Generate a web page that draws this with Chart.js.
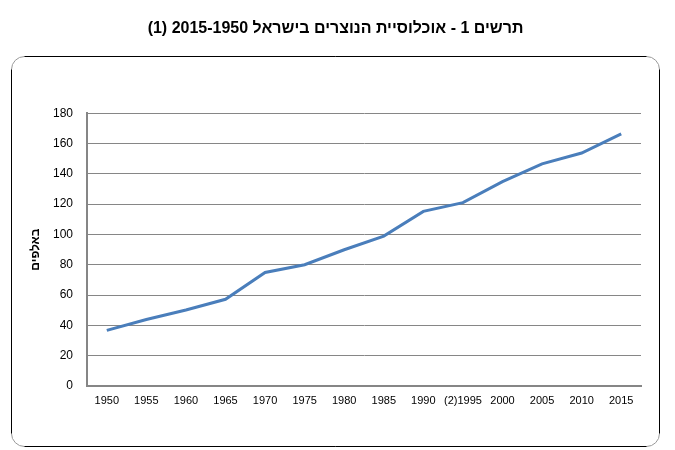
<!DOCTYPE html>
<html lang="he">
<head>
<meta charset="utf-8">
<script src="https://cdn.jsdelivr.net/npm/chart.js@4/dist/chart.umd.min.js"></script>
<style>
  html, body { margin: 0; padding: 0; background: #fff; }
  #wrap { width: 675px; height: 450px; }
  #myChart { direction: rtl; }
</style>
</head>
<body>
<div id="wrap"><canvas id="myChart" width="675" height="450"></canvas></div>
<script>
// Births in Israel, thousands
const years = ["1950", "1955", "1960", "1965", "1970", "1975", "1980", "1985",
  "1990", "1995(2)", "2000", "2005", "2010", "2015"];
const births = [36.7, 43.9, 50.1, 57.2, 74.9, 80.0, 89.9, 98.9,
  115.2, 121.0, 134.9, 146.6, 153.7, 166.4];
const yTicks = [0, 20, 40, 60, 80, 100, 120, 140, 160, 180];

const titleText = "תרשים 1 - אוכלוסיית הנוצרים בישראל 1950\u200F-2015 (1)";
const yTitle = "באלפים";

Chart.defaults.font.family = "'Liberation Sans', Arial, sans-serif";
Chart.defaults.color = "#000";

// frame around the plot: square black edge plus the grey rounded box inside it
const framePlugin = {
  id: "frame",
  afterDraw(chart) {
    const c = chart.ctx;
    const x0 = 11.5, y0 = 56.5, x1 = 659.5, y1 = 446.5, r = 13;
    c.save();
    c.lineWidth = 1;
    c.strokeStyle = "#999";
    c.beginPath();
    c.roundRect(x0, y0, x1 - x0, y1 - y0, r);
    c.stroke();
    c.strokeStyle = "#000";
    c.beginPath();
    c.moveTo(x0 + r, y0); c.lineTo(x1 - r, y0);
    c.moveTo(x1, y0 + r); c.lineTo(x1, y1 - r);
    c.moveTo(x0 + r, y1); c.lineTo(x1 - r, y1);
    c.moveTo(x0, y0 + r); c.lineTo(x0, y1 - r);
    c.stroke();
    c.restore();
  }
};

const ctx = document.getElementById("myChart");
const myChart = new Chart(ctx, {
  type: "line",
  data: {
    labels: years,
    datasets: [{
      label: yTitle,
      data: births,
      borderColor: "#4a7ebb",
      borderWidth: 3,
      pointRadius: 0,
      tension: 0,
      fill: false
    }]
  },
  plugins: [framePlugin],
  options: {
    responsive: false,
    animation: false,
    layout: { padding: { left: 12, right: 16, top: 0, bottom: 0 } },
    plugins: {
      legend: { display: false },
      tooltip: { enabled: false },
      title: {
        display: true,
        text: titleText,
        color: "#000",
        font: { size: 16, weight: "bold" },
        padding: { top: 19, bottom: 75 }
      }
    },
    scales: {
      x: {
        offset: true,
        grid: { display: false, drawTicks: false },
        border: { color: "#868686", width: 2 },
        ticks: { font: { size: 11 }, color: "#000", padding: 8, maxRotation: 0, autoSkip: false },
        afterFit(scale) { scale.height = 64; }
      },
      y: {
        min: 0,
        max: 180,
        afterBuildTicks(scale) { scale.ticks = yTicks.map(v => ({ value: v })); },
        grid: { color: "#868686", lineWidth: 1, drawTicks: false },
        border: { color: "#868686", width: 2 },
        ticks: { font: { size: 12 }, color: "#000", padding: 14 },
        title: {
          display: true,
          text: yTitle,
          color: "#000",
          font: { size: 12, weight: "bold" },
          padding: { top: 16, bottom: 4 }
        },
        afterFit(scale) { scale.width = 75; }
      },
      // empty right-hand strip so the plot stops short of the frame
      yRight: {
        position: "right",
        min: 0,
        max: 180,
        grid: { display: false, drawTicks: false },
        border: { display: false },
        ticks: { display: false },
        afterFit(scale) { scale.width = 18; }
      }
    }
  }
});
</script>
</body>
</html>
